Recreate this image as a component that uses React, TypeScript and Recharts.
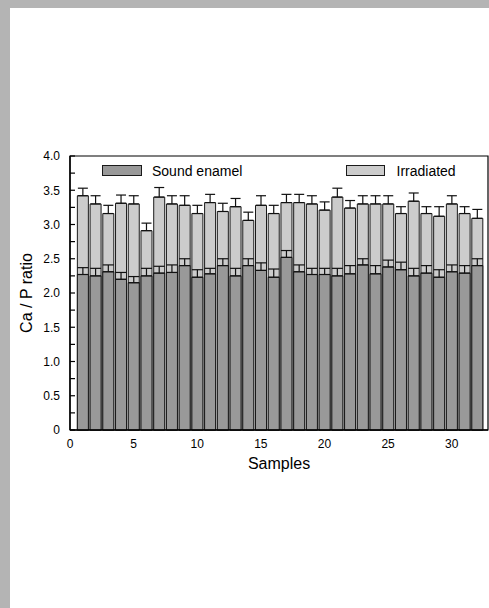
import { BarChart, Bar, XAxis, YAxis, ErrorBar, Legend, ReferenceArea } from 'recharts';

const samples = [1, 2, 3, 4, 5, 6, 7, 8, 9, 10, 11, 12, 13, 14, 15, 16, 17, 18, 19, 20, 21, 22, 23, 24, 25, 26, 27, 28, 29, 30, 31, 32];
const irradiated = [3.42, 3.30, 3.16, 3.31, 3.30, 2.91, 3.40, 3.30, 3.28, 3.16, 3.32, 3.19, 3.26, 3.06, 3.28, 3.16, 3.32, 3.32, 3.30, 3.21, 3.40, 3.24, 3.30, 3.30, 3.30, 3.16, 3.34, 3.16, 3.12, 3.30, 3.16, 3.09];
const irradiatedErr = [0.11, 0.12, 0.12, 0.12, 0.12, 0.11, 0.14, 0.12, 0.14, 0.12, 0.12, 0.12, 0.12, 0.12, 0.14, 0.12, 0.12, 0.12, 0.12, 0.12, 0.13, 0.11, 0.12, 0.12, 0.12, 0.10, 0.12, 0.10, 0.14, 0.12, 0.10, 0.13];
const sound = [2.27, 2.25, 2.31, 2.20, 2.15, 2.25, 2.29, 2.30, 2.40, 2.23, 2.28, 2.40, 2.25, 2.40, 2.33, 2.23, 2.52, 2.31, 2.27, 2.27, 2.25, 2.28, 2.41, 2.28, 2.38, 2.34, 2.25, 2.29, 2.23, 2.31, 2.29, 2.40];
const soundErr = [0.10, 0.11, 0.10, 0.10, 0.09, 0.11, 0.10, 0.11, 0.10, 0.11, 0.08, 0.10, 0.11, 0.10, 0.11, 0.12, 0.10, 0.10, 0.09, 0.09, 0.11, 0.12, 0.09, 0.12, 0.10, 0.11, 0.11, 0.11, 0.11, 0.10, 0.11, 0.10];
const xTicks = [0, 5, 10, 15, 20, 25, 30];
const yTicks = [0, 0.25, 0.5, 0.75, 1, 1.25, 1.5, 1.75, 2, 2.25, 2.5, 2.75, 3, 3.25, 3.5, 3.75, 4];

const data = samples.map((s, i) => ({
  sample: s,
  irradiated: irradiated[i],
  irrErr: [0, irradiatedErr[i]],
  sound: sound[i],
  soundErr: [0, soundErr[i]],
}));

const FONT = '"Liberation Sans", Arial, sans-serif';
const SOUND_FILL = '#999999';
const IRR_FILL = '#cccccc';
const EDGE = '#1a1a1a';
const X_MAX = 32.85;

const fmtY = (v: number) => {
  if (v === 0) return '0';
  if (Math.round(v * 2) !== v * 2) return '';
  return v.toFixed(1);
};

const renderLegend = (props: any) => {
  const items = props.payload || [];
  const soundItem = items.find((p: any) => p.dataKey === 'sound');
  const irrItem = items.find((p: any) => p.dataKey === 'irradiated');
  return (
    <svg width={360} height={16} style={{ display: 'block' }}>
      <rect x={0.5} y={2.5} width={39} height={10} fill={SOUND_FILL} stroke={EDGE} />
      <text x={50} y={13} fontSize={14} fontFamily={FONT} fill="#000">{soundItem ? soundItem.value : ''}</text>
      <rect x={244.5} y={2.5} width={38} height={10} fill={IRR_FILL} stroke={EDGE} />
      <text x={294.5} y={13} fontSize={14} fontFamily={FONT} fill="#000">{irrItem ? irrItem.value : ''}</text>
    </svg>
  );
};

export default function App() {
  return (
    <div style={{ width: 489, height: 608, background: '#b4b4b4', position: 'relative', overflow: 'hidden' }}>
      <style>{'html,body{margin:0;padding:0;background:#b4b4b4;}'}</style>
      <div style={{ position: 'absolute', left: 10, top: 8, width: 479, height: 600, background: '#ffffff' }}>
        <BarChart
          width={479}
          height={600}
          data={data}
          margin={{ top: 148, right: 1, left: 0, bottom: 139 }}
        >
          <XAxis
            xAxisId="a"
            dataKey="sample"
            type="number"
            domain={[0, X_MAX]}
            ticks={xTicks}
            tickLine={false}
            tickSize={0}
            tickMargin={9}
            height={39}
            axisLine={{ stroke: '#000', strokeWidth: 1.4 }}
            tick={{ fontSize: 12, fill: '#000', fontFamily: FONT }}
            label={{ value: 'Samples', position: 'insideBottom', offset: 0, style: { fontSize: 16, fill: '#000', fontFamily: FONT } }}
          />
          <XAxis xAxisId="b" dataKey="sample" type="number" domain={[0, X_MAX]} hide />
          <YAxis
            type="number"
            domain={[0, 4]}
            ticks={yTicks}
            interval={0}
            tickFormatter={fmtY}
            width={60}
            tickSize={-5}
            tickMargin={15}
            axisLine={{ stroke: '#000', strokeWidth: 1.4 }}
            tickLine={{ stroke: '#000', strokeWidth: 1.2 }}
            tick={{ fontSize: 12, fill: '#000', fontFamily: FONT }}
            label={{ value: 'Ca / P ratio', angle: -90, position: 'insideLeft', offset: 16, style: { fontSize: 16, fill: '#000', fontFamily: FONT, textAnchor: 'middle' } }}
          />
          <ReferenceArea xAxisId="a" x1={0} x2={X_MAX} y1={0} y2={4} fill="none" stroke="#000" strokeWidth={1.2} />
          <Legend
            layout="horizontal"
            verticalAlign="middle"
            align="center"
            content={renderLegend}
            wrapperStyle={{ top: 155, left: 92, width: 360, height: 16 }}
          />
          <Bar xAxisId="a" dataKey="irradiated" name="Irradiated" fill={IRR_FILL} stroke={EDGE} strokeWidth={1} barSize={11} isAnimationActive={false}>
            <ErrorBar dataKey="irrErr" direction="y" width={5} stroke="#111" strokeWidth={1.2} />
          </Bar>
          <Bar xAxisId="b" dataKey="sound" name="Sound enamel" fill={SOUND_FILL} stroke={EDGE} strokeWidth={1} barSize={11} isAnimationActive={false}>
            <ErrorBar dataKey="soundErr" direction="y" width={5.5} stroke="#111" strokeWidth={1.2} />
          </Bar>
        </BarChart>
      </div>
    </div>
  );
}
